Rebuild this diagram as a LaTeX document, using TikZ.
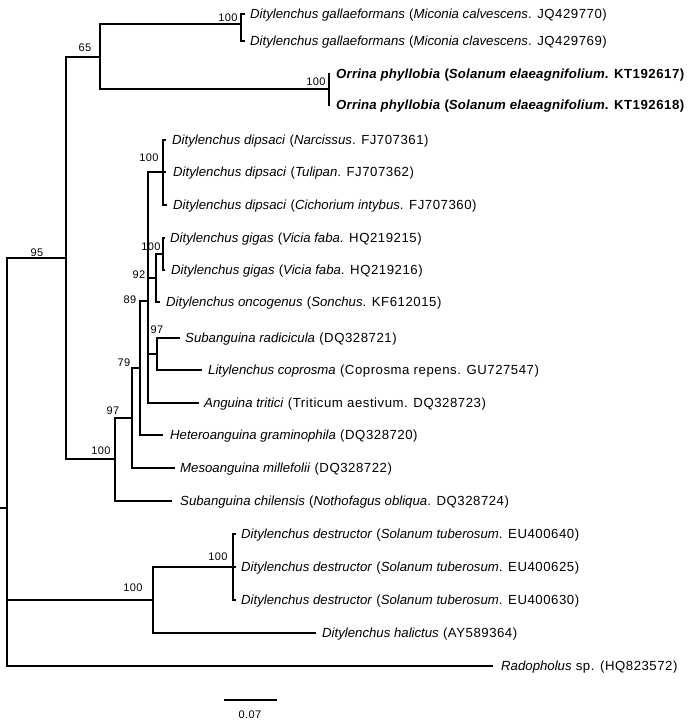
\documentclass[tikz,border=0pt]{standalone}
\usepackage{fontspec}
\setmainfont{Liberation Sans}[LetterSpace=4,ItalicFeatures={LetterSpace=0},BoldItalicFeatures={LetterSpace=1.5}]
\begin{document}
\begin{tikzpicture}[x=1pt,y=-1pt,
  br/.style={line width=1.8pt,black,line join=miter},
  lbl/.style={anchor=base west,inner sep=0pt,font=\fontsize{13.2}{15}\selectfont},
  bs/.style={anchor=base,inner sep=0pt,font=\fontsize{11}{12}\selectfont}]
\useasboundingbox (0,0) rectangle (695,720);
% internal nodes
\coordinate (root) at (7,508);
\coordinate (rootstub) at (0,508);
\coordinate (n95) at (66,258);
\coordinate (n65) at (100,57);
\coordinate (gallN) at (241,24);
\coordinate (orrN) at (329,89);
\coordinate (n100c) at (115,459);
\coordinate (n97b) at (132,418);
\coordinate (n79) at (140,368);
\coordinate (n89) at (148,301);
\coordinate (dipN) at (163,172);
\coordinate (n92) at (156,278);
\coordinate (gigN) at (163,254);
\coordinate (n97a) at (157,354);
\coordinate (n100d) at (153,600);
\coordinate (destN) at (233,567);
% tips
\coordinate (t1) at (245,14);
\coordinate (t2) at (245,41);
\coordinate (t3) at (330,74);
\coordinate (t4) at (330,105);
\coordinate (t5) at (166,140);
\coordinate (t6) at (166,172);
\coordinate (t7) at (167,205);
\coordinate (t8) at (165,238);
\coordinate (t9) at (165,270);
\coordinate (t10) at (160,302);
\coordinate (t11) at (180,338);
\coordinate (t12) at (202,370);
\coordinate (t13) at (199,403);
\coordinate (t14) at (163,435);
\coordinate (t15) at (175,468);
\coordinate (t16) at (172,501);
\coordinate (t17) at (236,534);
\coordinate (t18) at (236,567);
\coordinate (t19) at (236,600);
\coordinate (t20) at (316,633);
\coordinate (t21) at (493,666);
% branches
\draw[br] (rootstub) -- (root);
\draw[br] (n95) -| (root);
\draw[br] (n100d) -| (root);
\draw[br] (t21) -| (root);
\draw[br] (n65) -| (n95);
\draw[br] (n100c) -| (n95);
\draw[br] (gallN) -| (n65);
\draw[br] (orrN) -| (n65);
\draw[br] (t1) -| (gallN);
\draw[br] (t2) -| (gallN);
\draw[br] (t3) -| (orrN);
\draw[br] (t4) -| (orrN);
\draw[br] (n97b) -| (n100c);
\draw[br] (t16) -| (n100c);
\draw[br] (n79) -| (n97b);
\draw[br] (t15) -| (n97b);
\draw[br] (n89) -| (n79);
\draw[br] (t14) -| (n79);
\draw[br] (dipN) -| (n89);
\draw[br] (n92) -| (n89);
\draw[br] (n97a) -| (n89);
\draw[br] (t13) -| (n89);
\draw[br] (t5) -| (dipN);
\draw[br] (t6) -| (dipN);
\draw[br] (t7) -| (dipN);
\draw[br] (gigN) -| (n92);
\draw[br] (t10) -| (n92);
\draw[br] (t8) -| (gigN);
\draw[br] (t9) -| (gigN);
\draw[br] (t11) -| (n97a);
\draw[br] (t12) -| (n97a);
\draw[br] (destN) -| (n100d);
\draw[br] (t20) -| (n100d);
\draw[br] (t17) -| (destN);
\draw[br] (t18) -| (destN);
\draw[br] (t19) -| (destN);
% tip labels
\node[lbl] (l1) at (250,18.5) {\textit{Ditylenchus gallaeformans} (\textit{Miconia calvescens}. JQ429770)};
\node[lbl] (l2) at (250,45.5) {\textit{Ditylenchus gallaeformans} (\textit{Miconia clavescens}. JQ429769)};
\node[lbl] (l3) at (336,78.5) {\bfseries\textit{Orrina phyllobia} (\textit{Solanum elaeagnifolium}. KT192617)};
\node[lbl] (l4) at (336,109.5) {\bfseries\textit{Orrina phyllobia} (\textit{Solanum elaeagnifolium}. KT192618)};
\node[lbl] (l5) at (172,144.5) {\textit{Ditylenchus dipsaci} (\textit{Narcissus}. FJ707361)};
\node[lbl] (l6) at (173,176.5) {\textit{Ditylenchus dipsaci} (\textit{Tulipan}. FJ707362)};
\node[lbl] (l7) at (173,209.5) {\textit{Ditylenchus dipsaci} (\textit{Cichorium intybus}. FJ707360)};
\node[lbl] (l8) at (170,242.5) {\textit{Ditylenchus gigas} (\textit{Vicia faba}. HQ219215)};
\node[lbl] (l9) at (171,274.5) {\textit{Ditylenchus gigas} (\textit{Vicia faba}. HQ219216)};
\node[lbl] (l10) at (166,306.5) {\textit{Ditylenchus oncogenus} (\textit{Sonchus}. KF612015)};
\node[lbl] (l11) at (185,342.5) {\textit{Subanguina radicicula} (DQ328721)};
\node[lbl] (l12) at (208,374.5) {\textit{Litylenchus coprosma} (Coprosma repens. GU727547)};
\node[lbl] (l13) at (204,407.5) {\textit{Anguina tritici} (Triticum aestivum. DQ328723)};
\node[lbl] (l14) at (170,439.5) {\textit{Heteroanguina graminophila} (DQ328720)};
\node[lbl] (l15) at (180,472.5) {\textit{Mesoanguina millefolii} (DQ328722)};
\node[lbl] (l16) at (180,505.5) {\textit{Subanguina chilensis} (\textit{Nothofagus obliqua}. DQ328724)};
\node[lbl] (l17) at (241,538.5) {\textit{Ditylenchus destructor} (\textit{Solanum tuberosum}. EU400640)};
\node[lbl] (l18) at (241,571.5) {\textit{Ditylenchus destructor} (\textit{Solanum tuberosum}. EU400625)};
\node[lbl] (l19) at (241,604.5) {\textit{Ditylenchus destructor} (\textit{Solanum tuberosum}. EU400630)};
\node[lbl] (l20) at (322,637.5) {\textit{Ditylenchus halictus} (AY589364)};
\node[lbl] (l21) at (501,670.5) {\textit{Radopholus} sp. (HQ823572)};
% bootstrap values
\node[bs] (b1) at (228,21) {100};
\node[bs] (b2) at (85,51) {65};
\node[bs] (b3) at (316,85) {100};
\node[bs] (b4) at (149,161) {100};
\node[bs] (b5) at (151,250) {100};
\node[bs] (b6) at (139,278) {92};
\node[bs] (b7) at (130,303) {89};
\node[bs] (b8) at (157,333) {97};
\node[bs] (b9) at (124,366) {79};
\node[bs] (b10) at (113,414) {97};
\node[bs] (b11) at (101,454) {100};
\node[bs] (b12) at (37,256) {95};
\node[bs] (b13) at (218,560) {100};
\node[bs] (b14) at (133,591) {100};
% scale bar
\coordinate (sb1) at (224,700);
\coordinate (sb2) at (277,700);
\draw[br] (sb1) -- (sb2);
\node[bs] (sbl) at (250,718) {0.07};
\end{tikzpicture}
\end{document}
